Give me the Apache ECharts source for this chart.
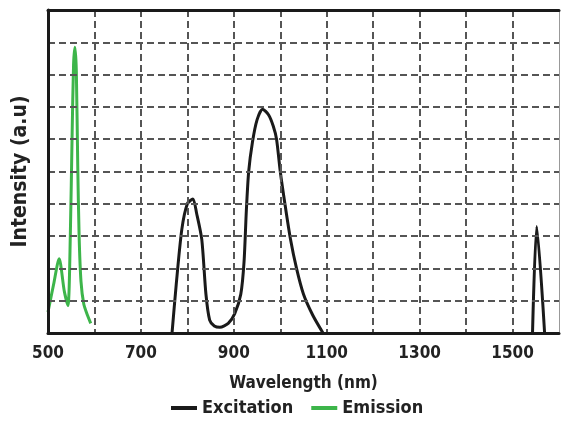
<!DOCTYPE html>
<html><head><meta charset="utf-8">
<script src="https://cdn.jsdelivr.net/npm/echarts@6/dist/echarts.min.js"></script>
<style>html,body{margin:0;padding:0;background:#fff}#c{width:562px;height:424px}</style>
</head><body><div id="c"></div>
<script>
const xTicks = [500, 700, 900, 1100, 1300, 1500];
const excitation = [
  [767,0],[776,1.5],[788,3.2],[800,4.0],[812,4.15],[820,3.7],[831,2.9],[840,1.2],[848,0.4],[858,0.22],[870,0.18],[888,0.3],[902,0.6],[915,1.2],[922,2.2],[927,3.8],[932,5.0],[940,5.9],[950,6.6],[962,6.93],[975,6.75],[985,6.4],[992,6.0],[1000,5.0],[1010,4.0],[1022,2.9],[1035,2.0],[1050,1.2],[1070,0.55],[1092,0],
  null,
  [1543,0],[1552,3.3],[1569,0]
];
const emission = [
  [500,0.65],[512,1.5],[524,2.3],[535,1.3],[543,0.85],[548,3.0],[552,6.2],[555,8.3],[558,8.85],[561,8.1],[564,5.2],[567,3.0],[571,1.6],[577,0.9],[585,0.55],[592,0.3]
];
const font = '"DejaVu Sans Condensed","DejaVu Sans",sans-serif';
const chart = echarts.init(document.getElementById('c'));
const dashed = {show:true, showMinLine:false, showMaxLine:false, lineStyle:{color:'#555', width:2, type:[7,4]}};
chart.setOption({
  animation:false,
  grid:{left:48, right:1, top:10, bottom:91},
  legend:{bottom:2, left:166, itemWidth:26, itemHeight:4, itemGap:18,
    icon:'rect',
    textStyle:{fontFamily:font, fontWeight:'bold', fontSize:18, color:'#222'},
    data:['Excitation','Emission']},
  xAxis:[{type:'value', min:500, max:1600, interval:100, z:10,
    axisLine:{show:true, onZero:false, lineStyle:{color:'#1a1a1a', width:3}},
    axisTick:{show:false},
    splitLine:dashed,
    axisLabel:{fontFamily:font, fontWeight:'bold', fontSize:17, color:'#222', margin:12,
      formatter:v=> xTicks.includes(v) ? String(v) : ''},
    name:'Wavelength (nm)', nameLocation:'middle', nameGap:42,
    nameTextStyle:{fontFamily:font, fontWeight:'bold', fontSize:17, color:'#222'}},
   {type:'value', position:'top', min:500, max:1600, z:10,
    axisLine:{show:true, onZero:false, lineStyle:{color:'#1a1a1a', width:3}},
    axisTick:{show:false}, axisLabel:{show:false}, splitLine:{show:false}}],
  yAxis:[{type:'value', min:0, max:10, interval:1, z:10,
    axisLine:{show:true, onZero:false, lineStyle:{color:'#1a1a1a', width:3}},
    axisTick:{show:false}, axisLabel:{show:false},
    splitLine:dashed,
    name:'Intensity (a.u)', nameLocation:'middle', nameGap:17,
    nameTextStyle:{fontFamily:font, fontWeight:'bold', fontSize:21, color:'#222'}},
   {type:'value', position:'right', min:0, max:10, z:10,
    axisLine:{show:true, onZero:false, lineStyle:{color:'#999', width:1}},
    axisTick:{show:false}, axisLabel:{show:false}, splitLine:{show:false}}],
  series:[
    {name:'Excitation', type:'line', data:excitation, smooth:0.25, showSymbol:false, symbol:'none',
     connectNulls:false, lineStyle:{color:'#1a1a1a', width:3}, itemStyle:{color:'#1a1a1a'}, z:5},
    {name:'Emission', type:'line', data:emission, smooth:0.25, showSymbol:false, symbol:'none',
     lineStyle:{color:'#3db54a', width:3}, itemStyle:{color:'#3db54a'}, z:5}
  ]
});
</script></body></html>
